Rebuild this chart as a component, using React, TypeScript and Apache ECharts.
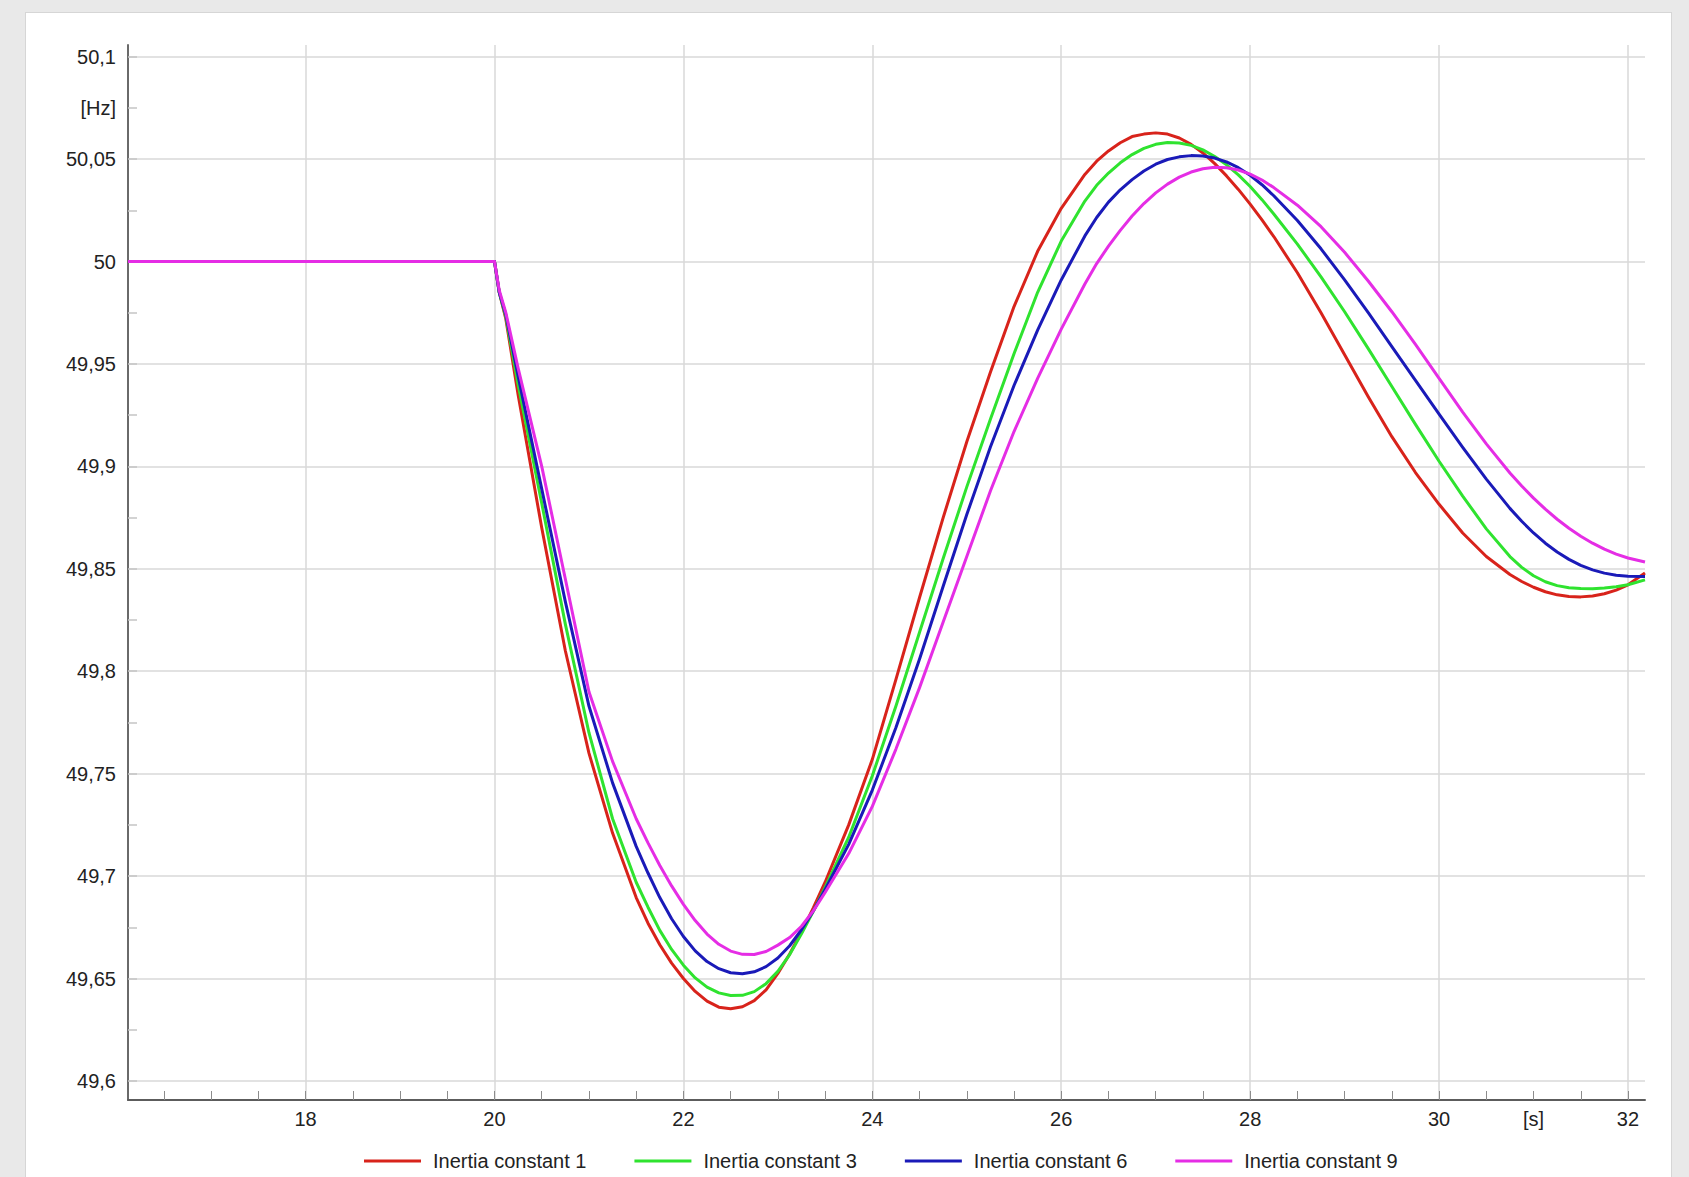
import React, { useEffect, useRef } from "react";
import * as echarts from "echarts";

// time axis [s]
const TIME = [
  16.12, 19.97, 20.0, 20.05, 20.12, 20.25, 20.5, 20.75, 21.0, 21.25,
  21.5, 21.625, 21.75, 21.875, 22.0, 22.125, 22.25, 22.375, 22.5, 22.625, 22.75, 22.875, 23.0, 23.125, 23.25, 23.375, 23.5,
  23.75, 24.0, 24.25, 24.5, 24.75, 25.0, 25.25, 25.5, 25.75, 26.0,
  26.25, 26.375, 26.5, 26.625, 26.75, 26.875, 27.0, 27.125, 27.25, 27.375, 27.5, 27.625, 27.75, 27.875, 28.0, 28.125, 28.25,
  28.5, 28.75, 29.0, 29.25, 29.5, 29.75, 30.0, 30.25, 30.5,
  30.75, 30.875, 31.0, 31.125, 31.25, 31.375, 31.5, 31.625, 31.75, 31.875, 32.0,
  32.18,
];

// frequency [Hz]
const H1 = [
  50, 50, 50, 49.985, 49.972, 49.935, 49.87, 49.81, 49.76, 49.721,
  49.6895, 49.677, 49.6665, 49.6575, 49.65, 49.6437, 49.639, 49.636, 49.6352, 49.6362, 49.6392, 49.6445, 49.6525, 49.662, 49.6728, 49.6845, 49.697,
  49.725, 49.757, 49.796, 49.836, 49.875, 49.912, 49.946, 49.978, 50.005, 50.026,
  50.0425, 50.049, 50.054, 50.058, 50.061, 50.0622, 50.0628, 50.0622, 50.0603, 50.0572, 50.053, 50.0478, 50.0418, 50.0352, 50.028, 50.0203, 50.0122,
  49.9945, 49.975, 49.9545, 49.934, 49.9145, 49.897, 49.8815, 49.8675, 49.856,
  49.8472, 49.8438, 49.841, 49.8388, 49.8373, 49.8365, 49.8363, 49.8367, 49.8378, 49.8396, 49.8422,
  49.848,
];
const H3 = [
  50, 50, 50, 49.985, 49.973, 49.94, 49.882, 49.823, 49.77, 49.728,
  49.697, 49.6848, 49.6735, 49.6642, 49.6565, 49.6503, 49.6458, 49.643, 49.6417, 49.6418, 49.6436, 49.6475, 49.6535, 49.6617, 49.6718, 49.6828, 49.6945,
  49.719, 49.749, 49.783, 49.819, 49.855, 49.89, 49.923, 49.955, 49.985, 50.01,
  50.0295, 50.0372, 50.0432, 50.0482, 50.0522, 50.0552, 50.0572, 50.0581, 50.0579, 50.0567, 50.0545, 50.0513, 50.0472, 50.0423, 50.0366, 50.0302, 50.0232,
  50.0085, 49.9925, 49.9755, 49.9575, 49.939, 49.9205, 49.9025, 49.8855, 49.8695,
  49.856, 49.8507, 49.8466, 49.8437, 49.8418, 49.8408, 49.8404, 49.8403, 49.8406, 49.8412, 49.8422,
  49.8446,
];
const H6 = [
  50, 50, 50, 49.985, 49.974, 49.944, 49.889, 49.834, 49.783, 49.7455,
  49.7145, 49.7015, 49.6895, 49.6792, 49.6705, 49.6635, 49.6583, 49.6548, 49.6528, 49.6523, 49.6533, 49.6558, 49.66, 49.666, 49.6738, 49.683, 49.6935,
  49.7155, 49.742, 49.7725, 49.806, 49.8415, 49.8765, 49.9095, 49.9395, 49.9665, 49.991,
  50.0125, 50.0215, 50.029, 50.035, 50.04, 50.0442, 50.0475, 50.0498, 50.0511, 50.0517, 50.0515, 50.0505, 50.0486, 50.0458, 50.0421, 50.0375, 50.0321,
  50.02, 50.0062, 49.991, 49.975, 49.9585, 49.942, 49.9255, 49.9093, 49.8938,
  49.8795, 49.8732, 49.8675, 49.8625, 49.8582, 49.8546, 49.8517, 49.8495, 49.8479, 49.8469, 49.8464,
  49.8463,
];
const H9 = [
  50, 50, 50, 49.986, 49.975, 49.948, 49.9, 49.845, 49.79, 49.756,
  49.728, 49.7162, 49.7052, 49.6952, 49.6862, 49.6783, 49.6717, 49.6667, 49.6634, 49.6618, 49.6617, 49.6632, 49.6663, 49.67, 49.6755, 49.683, 49.692,
  49.711, 49.734, 49.762, 49.792, 49.824, 49.856, 49.888, 49.917, 49.943, 49.967,
  49.989, 49.999, 50.0075, 50.0152, 50.0222, 50.0283, 50.0335, 50.0378, 50.0412, 50.0437, 50.0453, 50.046, 50.0458, 50.0447, 50.0427, 50.0398, 50.0361,
  50.0275, 50.017, 50.0045, 49.9905, 49.9755, 49.9595, 49.943, 49.9265, 49.911,
  49.8968, 49.8904, 49.8845, 49.8791, 49.8742, 49.8698, 49.8659, 49.8625, 49.8596, 49.8572, 49.8553,
  49.8533,
];

const SERIES_NAMES = ["Inertia constant 1", "Inertia constant 3", "Inertia constant 6", "Inertia constant 9"];
const SERIES_COLORS = ["#d8231b", "#2fe32f", "#1a1ab8", "#e52de5"];
const SERIES_VALUES = [H1, H3, H6, H9];

// axes
const X_MIN = 16.12;
const X_MAX = 32.18;
const Y_MIN = 49.5907;
const Y_MAX = 50.1057;
const X_LABELS = [18, 20, 22, 24, 26, 28, 30, 31, 32];
const X_UNIT_AT = 31;
const X_UNIT = "[s]";
const X_GRID = [18, 20, 22, 24, 26, 28, 30, 32];
const X_TICKS = [16.5, 17, 17.5, 18, 18.5, 19, 19.5, 20, 20.5, 21, 21.5, 22, 22.5, 23, 23.5, 24, 24.5, 25, 25.5, 26, 26.5, 27, 27.5, 28, 28.5, 29, 29.5, 30, 30.5, 31, 31.5, 32];
const Y_LABELS = [49.6, 49.65, 49.7, 49.75, 49.8, 49.85, 49.9, 49.95, 50, 50.05, 50.075, 50.1];
const Y_UNIT_AT = 50.075;
const Y_UNIT = "[Hz]";
const Y_GRID = [49.6, 49.65, 49.7, 49.75, 49.8, 49.85, 49.9, 49.95, 50, 50.05, 50.1];
const Y_TICKS = [49.6, 49.625, 49.65, 49.675, 49.7, 49.725, 49.75, 49.775, 49.8, 49.825, 49.85, 49.875, 49.9, 49.925, 49.95, 49.975, 50, 50.025, 50.05, 50.075, 50.1];

const fmt = (v: number) => String(Number(v.toFixed(3))).replace(".", ",");

export default function App() {
  const ref = useRef<HTMLDivElement>(null);

  useEffect(() => {
    if (!ref.current) return;
    const chart = echarts.init(ref.current, undefined, { renderer: "svg" });
    const font = "'Liberation Sans', Arial, sans-serif";
    const gridColor = "#d9d9d9";

    const option: any = {
      animation: false,
      textStyle: { fontFamily: font },
      grid: { left: 128, top: 45, right: 44, bottom: 77, containLabel: false },
      legend: {
        left: 359,
        top: 1146,
        icon: "rect",
        itemWidth: 57,
        itemHeight: 3,
        itemGap: 48,
        textStyle: { fontSize: 20, color: "#222", fontFamily: font, padding: [0, 0, 0, 7] },
        data: SERIES_NAMES,
      },
      xAxis: [
        {
          type: "value",
          min: X_MIN,
          max: X_MAX,
          position: "bottom",
          axisLine: { show: true, onZero: false, lineStyle: { color: "#5c5c5c", width: 2 } },
          axisTick: { show: true, inside: true, length: 9, customValues: X_TICKS, lineStyle: { color: "#8c8c8c", width: 1 } },
          axisLabel: {
            show: true,
            customValues: X_LABELS,
            fontSize: 20,
            color: "#222",
            margin: 9,
            fontFamily: font,
            formatter: (v: number) => (Math.abs(v - X_UNIT_AT) < 1e-6 ? X_UNIT : fmt(v)),
          },
          splitLine: { show: false },
        },
        {
          type: "value",
          min: X_MIN,
          max: X_MAX,
          position: "bottom",
          axisLine: { show: false },
          axisTick: { show: false, customValues: X_GRID },
          axisLabel: { show: false, customValues: X_GRID },
          splitLine: { show: true, lineStyle: { color: gridColor, width: 1.5 } },
        },
      ],
      yAxis: [
        {
          type: "value",
          min: Y_MIN,
          max: Y_MAX,
          position: "left",
          axisLine: { show: true, onZero: false, lineStyle: { color: "#6a6a6a", width: 2 } },
          axisTick: { show: true, inside: true, length: 9, customValues: Y_TICKS, lineStyle: { color: "#c4c4c4", width: 1.5 } },
          axisLabel: {
            show: true,
            customValues: Y_LABELS,
            fontSize: 20,
            color: "#222",
            margin: 12,
            fontFamily: font,
            formatter: (v: number) => (Math.abs(v - Y_UNIT_AT) < 1e-6 ? Y_UNIT : fmt(v)),
          },
          splitLine: { show: false },
        },
        {
          type: "value",
          min: Y_MIN,
          max: Y_MAX,
          position: "left",
          axisLine: { show: false },
          axisTick: { show: false, customValues: Y_GRID },
          axisLabel: { show: false, customValues: Y_GRID },
          splitLine: { show: true, lineStyle: { color: gridColor, width: 1.5 } },
        },
      ],
      series: SERIES_NAMES.map((name, i) => ({
        name,
        type: "line",
        xAxisIndex: 0,
        yAxisIndex: 0,
        data: TIME.map((t, k) => [t, SERIES_VALUES[i][k]]),
        showSymbol: false,
        symbol: "none",
        smooth: false,
        color: SERIES_COLORS[i],
        lineStyle: { color: SERIES_COLORS[i], width: 3, join: "round" },
        z: 2 + i,
      })),
    };

    chart.setOption(option);
    return () => chart.dispose();
  }, []);

  return (
    <div style={{ position: "fixed", left: 0, top: 0, width: 1689, height: 1177, background: "#e9e9e9", overflow: "hidden" }}>
      <div
        style={{
          position: "absolute",
          left: 25,
          top: 12,
          width: 1647,
          height: 1180,
          background: "#ffffff",
          border: "1px solid #d6d6d6",
          boxSizing: "border-box",
        }}
      />
      <div ref={ref} style={{ position: "absolute", left: 0, top: 0, width: 1689, height: 1177 }} />
    </div>
  );
}
